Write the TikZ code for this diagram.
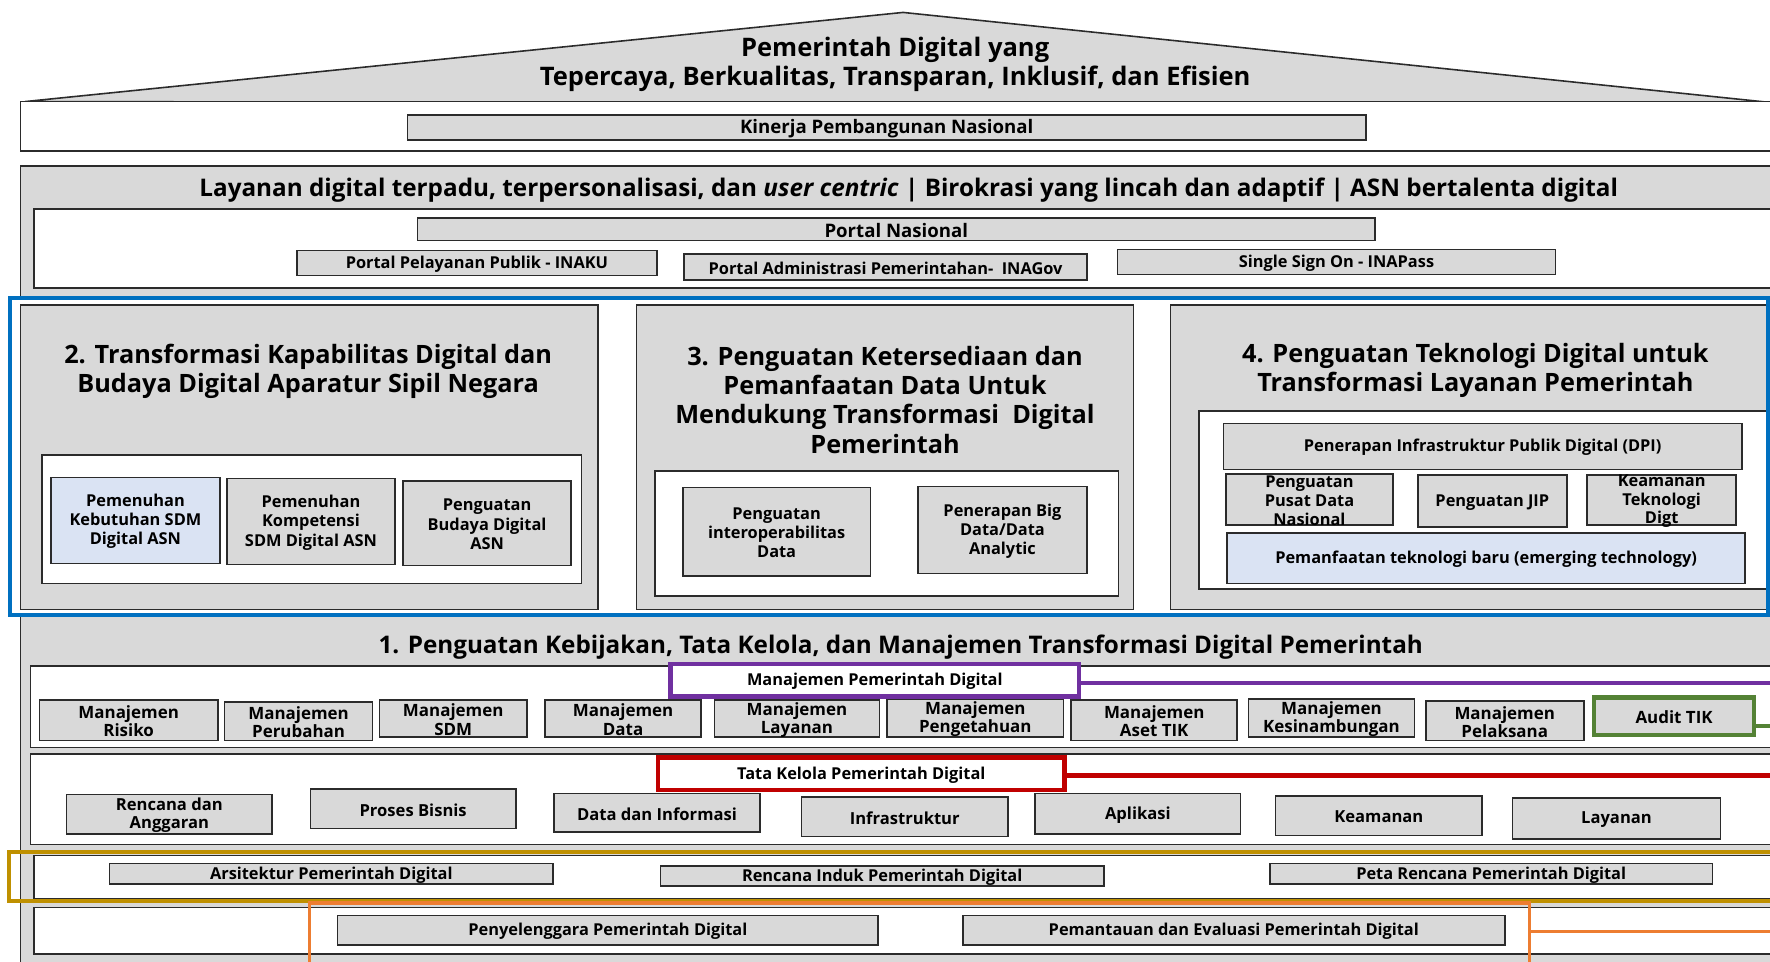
\documentclass[tikz,border=0pt]{standalone}
\usepackage{fontspec}
\setmainfont{Open Sans}
\usetikzlibrary{fit}

\definecolor{boxgray}{HTML}{D9D9D9}
\definecolor{edge}{HTML}{2B2B2B}
\definecolor{lightblue}{HTML}{DAE3F3}
\definecolor{pblue}{HTML}{0070C0}
\definecolor{ppurple}{HTML}{7030A0}
\definecolor{pred}{HTML}{C00000}
\definecolor{pgreen}{HTML}{548235}
\definecolor{pgold}{HTML}{BF9000}
\definecolor{porange}{HTML}{ED7D31}

\newcommand\fs[2]{\bfseries\fontsize{#1}{#2}\selectfont}

\tikzset{
  box/.style={draw=edge, line width=1.4pt, fill=boxgray, inner sep=0pt},
  wbox/.style={draw=edge, line width=1.4pt, fill=white, inner sep=0pt},
  lbox/.style={box, fill=lightblue},
  frame/.style={draw=#1, line width=3.8pt, inner sep=0pt},
  tagbox/.style={fill=white, draw=#1, line width=3.8pt, inner sep=0pt},
  label text/.style={align=center, inner sep=0pt},
  bigtitle/.style={label text, font=\fs{22.6}{25}},
  bandtitle/.style={label text, font=\fs{21.5}{25}},
  pilltitle/.style={label text, font=\fs{22.4}{26}},
  portaltext/.style={font=\fs{14.5}{16}},
  subtext/.style={font=\fs{14.5}{17}},
  mgmttext/.style={font=\fs{15}{16}},
  govtext/.style={font=\fs{14.7}{16}},
  link/.style={line width=3.8pt, draw=#1},
}

% box drawn between two corners, with its text centred on it
% \bx[text style]{box style}{name}{x1}{y1}{x2}{y2}{text}
\newcommand\bx[8][]{%
  \node[#2, fit={(#4,#5) (#6,#7)}] (#3) {};
  \node[label text, yshift=-1pt, #1] (#3-text) at (#3.center) {#8};}

\begin{document}
\begin{tikzpicture}[x=1pt, y=-1pt]
\useasboundingbox (0,0) rectangle (1568,852);
\clip (0,0) rectangle (1568,852);

% roof and vision statement
\draw[fill=boxgray, draw=edge, line width=1.4pt] (22,90) -- (800,11) -- (1580,92) -- cycle;
\node[bigtitle] (vision) at (793,57) {Pemerintah Digital yang\\Tepercaya, Berkualitas, Transparan, Inklusif, dan Efisien};

% national performance band
\node[wbox, fit={(18,90) (1580,134)}] (kinerjaband) {};
\bx[font=\fs{16.5}{18}]{box}{kinerja}{361}{102}{1210}{124}{Kinerja Pembangunan Nasional}

% main body
\node[box, fit={(18,147) (1580,880)}] (body) {};
\node[bandtitle] (layanan) at (805,168) {Layanan digital terpadu, terpersonalisasi, dan \textit{user centric} | Birokrasi yang lincah dan adaptif | ASN bertalenta digital};

% portals
\node[wbox, fit={(30,185) (1580,255)}] (portalband) {};
\bx[font=\fs{16.5}{18}]{box}{portalnas}{370}{193}{1218}{213}{Portal Nasional}
\bx[portaltext]{box}{inaku}{263}{222}{582}{244}{Portal Pelayanan Publik - INAKU}
\bx[portaltext]{box}{inagov}{606}{225}{963}{248}{Portal Administrasi Pemerintahan-~ INAGov}
\bx[portaltext]{box}{inapass}{990}{221}{1378}{243}{Single Sign On - INAPass}

% pillars 2, 3 and 4
\fill[white] (9,264) rectangle (1566,545);

\node[box, fit={(18,270) (530,540)}] (p2) {};
\node[pilltitle] (p2t) at (273,329) {2. Transformasi Kapabilitas Digital dan\\Budaya Digital Aparatur Sipil Negara};
\node[wbox, fit={(37,403) (515,517)}] (p2in) {};
\bx[subtext]{lbox}{p2a}{45}{423}{195}{499}{Pemenuhan\\Kebutuhan SDM\\Digital ASN}
\bx[subtext]{box}{p2b}{201}{424}{350}{500}{Pemenuhan\\Kompetensi\\SDM Digital ASN}
\bx[subtext]{box}{p2c}{357}{426}{506}{501}{Penguatan\\Budaya Digital\\ASN}

\node[box, fit={(564,270) (1004,540)}] (p3) {};
\node[pilltitle] (p3t) at (784,354) {3. Penguatan Ketersediaan dan\\Pemanfaatan Data Untuk\\Mendukung Transformasi~ Digital\\Pemerintah};
\node[wbox, fit={(580,417) (991,528)}] (p3in) {};
\bx[subtext]{box}{p3a}{605}{432}{771}{510}{Penguatan\\interoperabilitas\\Data}
\bx[subtext]{box}{p3b}{813}{431}{963}{508}{Penerapan Big\\Data/Data\\Analytic}

\node[box, fit={(1037,270) (1580,540)}] (p4) {};
\node[pilltitle] (p4t) at (1307,328) {4. Penguatan Teknologi Digital untuk\\Transformasi Layanan Pemerintah};
\node[wbox, fit={(1062,364) (1580,522)}] (p4in) {};
\bx[subtext]{box}{dpi}{1084}{375}{1543}{416}{Penerapan Infrastruktur Publik Digital (DPI)}
\bx[font=\fs{14.5}{16.5}]{box}{pdn}{1086}{420}{1234}{465}{Penguatan\\Pusat Data\\Nasional}
\bx[subtext]{box}{jip}{1256}{421}{1388}{467}{Penguatan JIP}
\bx[font=\fs{14.5}{16.5}]{box}{ktd}{1406}{421}{1538}{465}{Keamanan\\Teknologi\\Digt}
\bx[subtext]{lbox}{emerging}{1087}{472}{1546}{517}{Pemanfaatan teknologi baru (emerging technology)}

\node[frame=pblue, fit={(9,264) (1566,545)}] (pillars) {};

% pillar 1: policy, governance and management
\node[bandtitle] (p1t) at (798,573) {1. Penguatan Kebijakan, Tata Kelola, dan Manajemen Transformasi Digital Pemerintah};

\node[wbox, fit={(27,590) (1580,662)}] (mgmt) {};
\bx[mgmttext]{box}{m1}{35}{620}{193}{656}{Manajemen\\Risiko}
\bx[mgmttext]{box}{m2}{199}{622}{330}{656}{Manajemen\\Perubahan}
\bx[mgmttext]{box}{m3}{336}{620}{467}{653}{Manajemen\\SDM}
\bx[mgmttext]{box}{m4}{483}{620}{621}{653}{Manajemen\\Data}
\bx[mgmttext]{box}{m5}{633}{620}{779}{653}{Manajemen\\Layanan}
\bx[mgmttext]{box}{m6}{786}{619}{942}{653}{Manajemen\\Pengetahuan}
\bx[mgmttext]{box}{m7}{949}{620}{1096}{656}{Manajemen\\Aset TIK}
\bx[mgmttext]{box}{m8}{1106}{619}{1253}{653}{Manajemen\\Kesinambungan}
\bx[mgmttext]{box}{m9}{1263}{621}{1403}{656}{Manajemen\\Pelaksana}
\bx[mgmttext]{box, draw=pgreen, line width=3.8pt}{audit}{1412}{618}{1554}{651}{Audit TIK}
\bx[portaltext]{tagbox=ppurple}{mpd}{594}{588}{956}{617}{Manajemen Pemerintah Digital}
\coordinate (mpdend) at (1580,605);
\coordinate (auditend) at (1580,643);
\draw[link=ppurple] (mpd.east |- mpdend) -- (mpdend);
\draw[link=pgreen] (audit.east |- auditend) -- (auditend);

\node[wbox, fit={(27,668) (1580,748)}] (gov) {};
\bx[govtext]{box}{g1}{59}{704}{241}{739}{Rencana dan\\Anggaran}
\bx[govtext]{box}{g2}{275}{699}{457}{734}{Proses Bisnis}
\bx[govtext]{box}{g3}{491}{703}{673}{737}{Data dan Informasi}
\bx[govtext]{box}{g4}{710}{706}{893}{741}{Infrastruktur}
\bx[govtext]{box}{g5}{917}{703}{1099}{739}{Aplikasi}
\bx[govtext]{box}{g6}{1130}{705}{1313}{740}{Keamanan}
\bx[govtext]{box}{g7}{1340}{707}{1524}{743}{Layanan}
\bx[portaltext]{tagbox=pred}{tkpd}{583}{671}{943}{700}{Tata Kelola Pemerintah Digital}
\coordinate (tkpdend) at (1580,687);
\draw[link=pred] (tkpd.east |- tkpdend) -- (tkpdend);

% architecture and plans
\node[wbox, fit={(30,758) (1580,796)}] (plan) {};
\bx[portaltext]{box}{arsitektur}{97}{765}{490}{783}{Arsitektur Pemerintah Digital}
\bx[portaltext]{box}{induk}{585}{767}{978}{785}{Rencana Induk Pemerintah Digital}
\bx[portaltext]{box}{peta}{1125}{765}{1517}{783}{Peta Rencana Pemerintah Digital}
\node[frame=pgold, fit={(8,755) (1580,798)}] (planframe) {};

% organisation, monitoring and evaluation
\node[wbox, fit={(30,804) (1580,845)}] (org) {};
\bx[portaltext]{box}{penyelenggara}{299}{811}{778}{837}{Penyelenggara Pemerintah Digital}
\bx[portaltext]{box}{monev}{853}{811}{1333}{837}{Pemantauan dan Evaluasi Pemerintah Digital}
\node[draw=porange, line width=3pt, inner sep=0pt, fit={(274,800) (1355,880)}] (orgframe) {};
\coordinate (orgend) at (1580,825);
\draw[porange, line width=3pt] (orgframe.east |- orgend) -- (orgend);
\end{tikzpicture}
\end{document}
